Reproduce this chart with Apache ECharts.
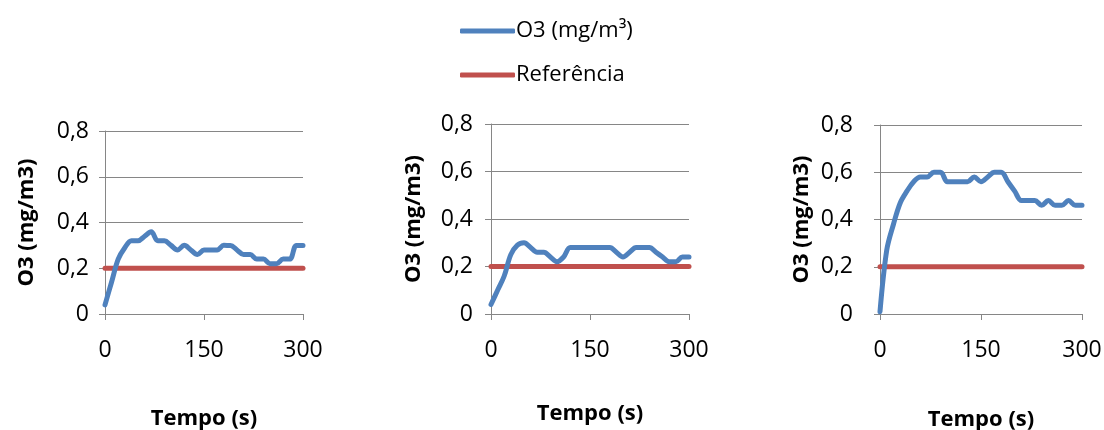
<!DOCTYPE html>
<html><head><meta charset="utf-8">
<script src="https://cdn.jsdelivr.net/npm/echarts@6/dist/echarts.min.js"></script>
<style>html,body{margin:0;padding:0;background:#fff}#c{width:1104px;height:430px}</style>
</head><body><div id="c"></div>
<script>
const times = [0,10,20,30,40,50,60,70,80,90,100,110,120,130,140,150,160,170,180,190,200,210,220,230,240,250,260,270,280,290,300];
const o3A = [0.04,0.14,0.24,0.29,0.32,0.32,0.34,0.36,0.32,0.32,0.30,0.28,0.30,0.28,0.26,0.28,0.28,0.28,0.30,0.30,0.28,0.26,0.26,0.24,0.24,0.22,0.22,0.24,0.24,0.30,0.30];
const o3B = [0.04,0.10,0.16,0.25,0.29,0.30,0.28,0.26,0.26,0.24,0.22,0.24,0.28,0.28,0.28,0.28,0.28,0.28,0.28,0.26,0.24,0.26,0.28,0.28,0.28,0.26,0.24,0.22,0.22,0.24,0.24];
const o3C = [0.01,0.27,0.38,0.47,0.52,0.56,0.58,0.58,0.60,0.60,0.56,0.56,0.56,0.56,0.58,0.56,0.58,0.60,0.60,0.56,0.52,0.48,0.48,0.48,0.46,0.48,0.46,0.46,0.48,0.46,0.46];
const refTimes = [0,300];
const refValues = [0.2,0.2];
const yTicks = [0,0.2,0.4,0.6,0.8];
const xTicks = [0,150,300];
const seriesNames = ['O3 (mg/m³)','Referência'];
const yName = 'O3 (mg/m3)';
const xName = 'Tempo (s)';

const FONT = 'Open Sans';
const grids = [
  {left:105, top:131, width:198, height:183, nameGapY:67, nameGapX:94, labelMargin:16},
  {left:491, top:124, width:198, height:190, nameGapY:66, nameGapX:89, labelMargin:18},
  {left:880, top:125, width:202, height:189, nameGapY:67, nameGapX:95, labelMargin:27}
];
const o3Sets = [o3A,o3B,o3C];
const axisGray = '#868686';

const option = {
  animation:false,
  backgroundColor:'#fff',
  textStyle:{fontFamily:FONT},
  legend:{
    orient:'vertical', left:455, top:15, itemWidth:55, itemHeight:5, itemGap:22,
    icon:'roundRect',
    data:seriesNames,
    textStyle:{fontFamily:FONT,fontSize:22,color:'#000',padding:[0,0,0,-4]}
  },
  grid: grids.map(g=>({left:g.left,top:g.top,width:g.width,height:g.height,containLabel:false,outerBoundsMode:'none'})),
  xAxis: grids.map((g,i)=>({
    gridIndex:i, type:'value', min:0, max:300, interval:150,
    name:xName, nameLocation:'middle', nameGap:g.nameGapX,
    nameTextStyle:{fontFamily:FONT,fontSize:22,fontWeight:'bold',color:'#000'},
    axisLine:{show:true,lineStyle:{color:axisGray,width:1}},
    axisTick:{show:true,inside:false,length:6,lineStyle:{color:axisGray}},
    axisLabel:{fontFamily:FONT,fontSize:23,color:'#000',margin:25,
      formatter:v=>xTicks.includes(v)?String(v):''},
    splitLine:{show:false}
  })),
  yAxis: grids.map((g,i)=>({
    gridIndex:i, type:'value', min:0, max:0.8, interval:0.2,
    name:yName, nameLocation:'middle', nameGap:g.nameGapY, nameRotate:90,
    nameTextStyle:{fontFamily:FONT,fontSize:22,fontWeight:'bold',color:'#000'},
    axisLine:{show:true,lineStyle:{color:axisGray,width:1}},
    axisTick:{show:true,inside:false,length:6,lineStyle:{color:axisGray}},
    axisLabel:{fontFamily:FONT,fontSize:23,color:'#000',margin:g.labelMargin,
      formatter:v=>{const t=yTicks.find(x=>Math.abs(x-v)<1e-9);return t===undefined?'':(t===0?'0':t.toFixed(1).replace('.',','));}},
    splitLine:{show:true,lineStyle:{color:axisGray,width:1}}
  })),
  series: []
};
o3Sets.forEach((arr,i)=>{
  option.series.push({
    name:seriesNames[0], type:'line', xAxisIndex:i, yAxisIndex:i,
    data:times.map((t,k)=>[t,arr[k]]), smooth:0.35, showSymbol:false, symbol:'none',
    lineStyle:{color:'#4F81BD',width:5,cap:'round',join:'round'}, itemStyle:{color:'#4F81BD'}, z:3
  });
  option.series.push({
    name:seriesNames[1], type:'line', xAxisIndex:i, yAxisIndex:i,
    data:refTimes.map((t,k)=>[t,refValues[k]]), showSymbol:false, symbol:'none',
    lineStyle:{color:'#C0504D',width:5,cap:'round'}, itemStyle:{color:'#C0504D'}, z:2
  });
});
const chart = echarts.init(document.getElementById('c'),null,{renderer:'canvas'});
chart.setOption(option);
</script></body></html>
